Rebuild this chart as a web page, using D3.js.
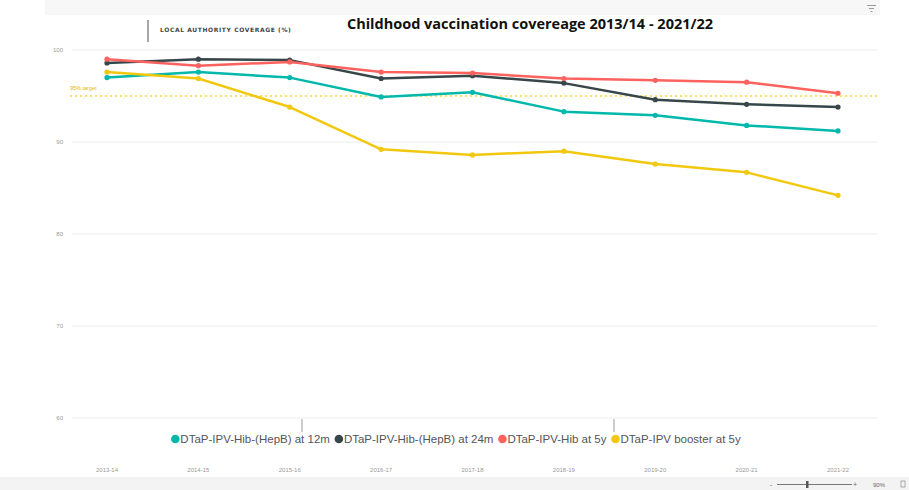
<!DOCTYPE html>
<html>
<head>
<meta charset="utf-8">
<script src="https://cdn.jsdelivr.net/npm/d3@7"></script>
<style>
  body { margin: 0; background: #fff; }
  svg { display: block; }
</style>
</head>
<body>
<div id="chart"></div>
<script>
// chart data
var years = ["2013-14", "2014-15", "2015-16", "2016-17", "2017-18", "2018-19", "2019-20", "2020-21", "2021-22"];
var seriesNames = ["DTaP-IPV-Hib-(HepB) at 12m", "DTaP-IPV-Hib-(HepB) at 24m", "DTaP-IPV-Hib at 5y", "DTaP-IPV booster at 5y"];
var at12m = [97.0, 97.6, 97.0, 94.9, 95.4, 93.3, 92.9, 91.8, 91.2];
var at24m = [98.6, 99.0, 98.9, 96.9, 97.2, 96.4, 94.6, 94.1, 93.8];
var hib5y = [99.0, 98.3, 98.7, 97.6, 97.5, 96.9, 96.7, 96.5, 95.3];
var booster5y = [97.6, 96.9, 93.8, 89.2, 88.6, 89.0, 87.6, 86.7, 84.2];
var yTicks = [60, 70, 80, 90, 100];
var target = 95;

var W = 909, H = 490;
var colors = ["#01B8AA", "#374649", "#FD625E", "#F2C80F"];
var allSeries = [at12m, at24m, hib5y, booster5y];

var svg = d3.select("#chart").append("svg")
  .attr("width", W)
  .attr("height", H);

// top and bottom grey strips (report chrome)
svg.append("rect").attr("x", 45).attr("y", 0).attr("width", 835).attr("height", 15).attr("fill", "#f7f7f7");
svg.append("rect").attr("x", 0).attr("y", 477).attr("width", W).attr("height", 13).attr("fill", "#f3f3f3");

var x = d3.scalePoint().domain(years).range([107, 838]);
var y = d3.scaleLinear().domain([60, 100]).range([418, 50]);

// gridlines
svg.append("g")
  .selectAll("line")
  .data(yTicks)
  .enter().append("line")
  .attr("x1", 72).attr("x2", 877)
  .attr("y1", d => y(d)).attr("y2", d => y(d))
  .attr("stroke", "#ececec")
  .attr("stroke-width", 1);

// y axis labels
svg.append("g")
  .selectAll("text")
  .data(yTicks)
  .enter().append("text")
  .attr("x", 63)
  .attr("y", d => y(d) + 2)
  .attr("text-anchor", "end")
  .style("font-family", "Liberation Sans, Arial, sans-serif")
  .style("font-size", "6px")
  .attr("fill", "#999")
  .text(d => d);

// x axis labels
svg.append("g")
  .selectAll("text")
  .data(years)
  .enter().append("text")
  .attr("x", d => x(d))
  .attr("y", 472)
  .attr("text-anchor", "middle")
  .style("font-family", "Liberation Sans, Arial, sans-serif")
  .style("font-size", "6px")
  .attr("fill", "#999")
  .text(d => d);

// target line
svg.append("line")
  .attr("x1", 70).attr("x2", 880)
  .attr("y1", y(target)).attr("y2", y(target))
  .attr("stroke", "#F2C80F")
  .attr("stroke-opacity", 0.8)
  .attr("stroke-width", 1.5)
  .attr("stroke-dasharray", "2,3");

svg.append("text")
  .attr("x", 70)
  .attr("y", y(target) - 6)
  .style("font-family", "Liberation Sans, Arial, sans-serif")
  .style("font-size", "5.5px")
  .attr("fill", "#E0B800")
  .text("95% target");

// lines
var line = d3.line()
  .x((d, i) => x(years[i]))
  .y(d => y(d));

allSeries.forEach(function (vals, k) {
  var g = svg.append("g");
  g.append("path")
    .datum(vals)
    .attr("d", line)
    .attr("fill", "none")
    .attr("stroke", colors[k])
    .attr("stroke-width", 2.5)
    .attr("stroke-linejoin", "round");
  g.selectAll("circle")
    .data(vals)
    .enter().append("circle")
    .attr("cx", (d, i) => x(years[i]))
    .attr("cy", d => y(d))
    .attr("r", 2.6)
    .attr("fill", colors[k]);
});

// header
svg.append("line")
  .attr("x1", 148).attr("x2", 148).attr("y1", 20).attr("y2", 42)
  .attr("stroke", "#888").attr("stroke-width", 1.5);
svg.append("text")
  .attr("x", 160)
  .attr("y", 32)
  .style("font-family", "DejaVu Sans, sans-serif")
  .style("font-size", "6px")
  .style("font-weight", "bold")
  .style("letter-spacing", "0.6px")
  .attr("fill", "#444")
  .text("LOCAL AUTHORITY COVERAGE (%)");

svg.append("text")
  .attr("x", 530)
  .attr("y", 29)
  .attr("text-anchor", "middle")
  .style("font-family", "Open Sans, sans-serif")
  .style("font-size", "14.5px")
  .style("font-weight", "bold")
  .attr("fill", "#111")
  .text("Childhood vaccination covereage 2013/14 - 2021/22");

// filter icon
var fi = svg.append("g").attr("stroke", "#999").attr("stroke-width", 1);
fi.append("line").attr("x1", 867).attr("x2", 876).attr("y1", 5.5).attr("y2", 5.5);
fi.append("line").attr("x1", 869).attr("x2", 874).attr("y1", 8.5).attr("y2", 8.5);
fi.append("line").attr("x1", 870.5).attr("x2", 872.5).attr("y1", 11.5).attr("y2", 11.5);

// small separators above legend
[302, 614].forEach(function (px) {
  svg.append("line")
    .attr("x1", px).attr("x2", px).attr("y1", 419).attr("y2", 432)
    .attr("stroke", "#aaa").attr("stroke-width", 1.2);
});

// legend
var legend = svg.append("g");
var cursor = 0;
seriesNames.forEach(function (name, k) {
  var item = legend.append("g").attr("transform", "translate(" + cursor + ",0)");
  item.append("circle").attr("cx", 4).attr("cy", 0).attr("r", 4.3).attr("fill", colors[k]);
  var t = item.append("text")
    .attr("x", 9)
    .attr("y", 4)
    .style("font-family", "Liberation Sans, Arial, sans-serif")
    .style("font-size", "11.5px")
    .attr("fill", "#555")
    .text(name);
  cursor += 9 + t.node().getComputedTextLength() + 5;
});
legend.attr("transform", "translate(" + (456 - (cursor - 5) / 2) + ",439)");

// zoom slider bottom right
var zs = svg.append("g");
zs.append("text").attr("x", 770).attr("y", 487).style("font-family", "Liberation Sans, sans-serif")
  .style("font-size", "7px").attr("fill", "#666").text("-");
zs.append("line").attr("x1", 777).attr("x2", 852).attr("y1", 484.5).attr("y2", 484.5).attr("stroke", "#777").attr("stroke-width", 1);
zs.append("rect").attr("x", 806).attr("y", 481).attr("width", 2.5).attr("height", 7).attr("fill", "#555");
zs.append("text").attr("x", 853).attr("y", 487).style("font-family", "Liberation Sans, sans-serif")
  .style("font-size", "7px").attr("fill", "#666").text("+");
zs.append("text").attr("x", 873).attr("y", 487).style("font-family", "Liberation Sans, sans-serif")
  .style("font-size", "6px").attr("fill", "#666").text("90%");
zs.append("rect").attr("x", 901).attr("y", 481).attr("width", 4).attr("height", 6).attr("fill", "none").attr("stroke", "#999").attr("stroke-width", 0.8);
</script>
</body>
</html>
